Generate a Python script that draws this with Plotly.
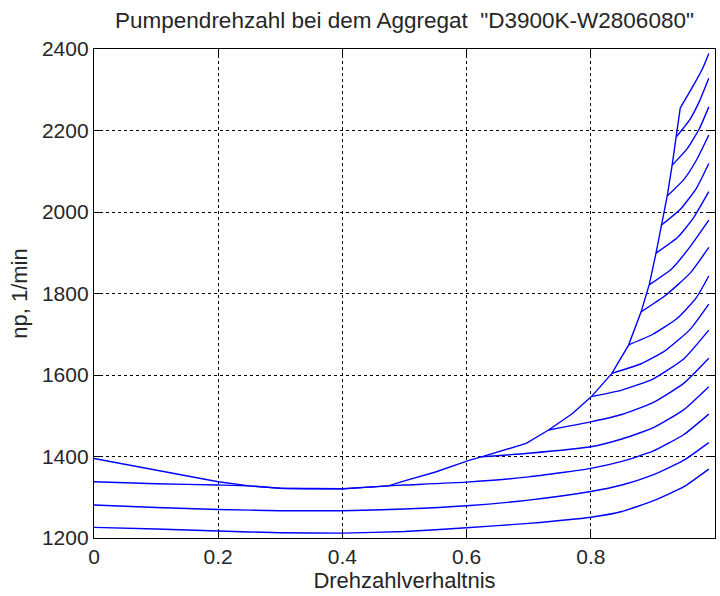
import plotly.graph_objects as go

# ---- data ----
title_text = 'Pumpendrehzahl bei dem Aggregat  "D3900K-W2806080"'
x_label = "Drehzahlverhaltnis"
y_label = "np, 1/min"

x_ticks = [0, 0.2, 0.4, 0.6, 0.8, 1.0]
x_tick_labels = ["0", "0.2", "0.4", "0.6", "0.8", "1"]
y_ticks = [1200, 1400, 1600, 1800, 2000, 2200, 2400]
y_tick_labels = ["1200", "1400", "1600", "1800", "2000", "2200", "2400"]

# limit (envelope) line
env_x = [0.0, 0.1, 0.2, 0.25, 0.3, 0.4, 0.474, 0.5, 0.55, 0.605, 0.624, 0.696, 0.732,
         0.77, 0.801, 0.834, 0.861, 0.881, 0.894, 0.905, 0.914, 0.923, 0.931, 0.938, 0.944]
env_y = [1395, 1366, 1338, 1328, 1322, 1321, 1328, 1340, 1362, 1391, 1399, 1432, 1465,
         1505, 1547, 1604, 1674, 1755, 1821, 1899, 1968, 2039, 2115, 2185, 2255]

# family of speed curves
curve_a_x = [0.0, 0.1, 0.2, 0.3, 0.4, 0.5, 0.6, 0.7, 0.8, 0.85, 0.9, 0.95, 0.99]
curve_a_y = [1226, 1222, 1217, 1213, 1212, 1216, 1225, 1236, 1251, 1265, 1291, 1326, 1369]

curve_b_x = [0.0, 0.1, 0.2, 0.3, 0.4, 0.5, 0.6, 0.7, 0.8, 0.85, 0.9, 0.95, 0.99]
curve_b_y = [1281, 1275, 1270, 1267, 1267, 1271, 1279, 1293, 1314, 1330, 1355, 1391, 1434]

curve_c_x = [0.0, 0.1, 0.2, 0.25, 0.3, 0.4, 0.474, 0.5, 0.6, 0.7, 0.8, 0.85, 0.9, 0.95, 0.99]
curve_c_y = [1338, 1333, 1330, 1328, 1322, 1321, 1328, 1330, 1337, 1350, 1371, 1388, 1413, 1454, 1504]

curve_d_x = [0.624, 0.7, 0.8, 0.85, 0.9, 0.95, 0.99]
curve_d_y = [1399, 1408, 1424, 1443, 1470, 1515, 1571]

curve_e_x = [0.732, 0.8, 0.85, 0.9, 0.95, 0.99]
curve_e_y = [1465, 1485, 1503, 1532, 1580, 1641]

curve_f_x = [0.801, 0.85, 0.9, 0.95, 0.99]
curve_f_y = [1547, 1563, 1590, 1640, 1710]

curve_g_x = [0.834, 0.88, 0.92, 0.96, 0.99]
curve_g_y = [1604, 1627, 1660, 1712, 1774]

curve_h_x = [0.861, 0.9, 0.94, 0.97, 0.99]
curve_h_y = [1674, 1700, 1740, 1790, 1843]

curve_i_x = [0.881, 0.92, 0.96, 0.99]
curve_i_y = [1755, 1795, 1850, 1913]

curve_j_x = [0.894, 0.93, 0.96, 0.99]
curve_j_y = [1821, 1860, 1915, 1980]

curve_k_x = [0.905, 0.94, 0.965, 0.99]
curve_k_y = [1899, 1938, 1985, 2050]

curve_l_x = [0.914, 0.945, 0.97, 0.99]
curve_l_y = [1968, 2008, 2058, 2119]

curve_m_x = [0.923, 0.95, 0.97, 0.99]
curve_m_y = [2039, 2080, 2127, 2189]

curve_n_x = [0.931, 0.955, 0.975, 0.99]
curve_n_y = [2115, 2155, 2205, 2258]

curve_o_x = [0.938, 0.96, 0.975, 0.99]
curve_o_y = [2185, 2228, 2272, 2328]

curve_p_x = [0.944, 0.965, 0.98, 0.99]
curve_p_y = [2255, 2310, 2352, 2389]

family = [
    (curve_a_x, curve_a_y), (curve_b_x, curve_b_y), (curve_c_x, curve_c_y),
    (curve_d_x, curve_d_y), (curve_e_x, curve_e_y), (curve_f_x, curve_f_y),
    (curve_g_x, curve_g_y), (curve_h_x, curve_h_y), (curve_i_x, curve_i_y),
    (curve_j_x, curve_j_y), (curve_k_x, curve_k_y), (curve_l_x, curve_l_y),
    (curve_m_x, curve_m_y), (curve_n_x, curve_n_y), (curve_o_x, curve_o_y),
    (curve_p_x, curve_p_y),
]

FONT = "Liberation Sans, Arial, sans-serif"
TXT = "#262626"
LINE_COLOR = "#0000ff"

fig = go.Figure()
fig.add_trace(go.Scatter(x=env_x, y=env_y, mode="lines",
                         line=dict(color=LINE_COLOR, width=1.4),
                         showlegend=False, hoverinfo="skip"))
for cx, cy in family:
    fig.add_trace(go.Scatter(x=cx, y=cy, mode="lines",
                             line=dict(color=LINE_COLOR, width=1.4, shape="spline", smoothing=0.5),
                             showlegend=False, hoverinfo="skip"))

axis_common = dict(
    showline=True, linecolor="#000000", linewidth=1.2, mirror="ticks",
    ticks="inside", ticklen=6, tickcolor="#000000", tickwidth=1,
    showgrid=True, gridcolor="#000000", gridwidth=1, griddash="3px,3px",
    zeroline=False,
    tickfont=dict(family=FONT, size=21, color=TXT),
)

fig.update_layout(
    width=720, height=596,
    margin=dict(l=94, r=5, t=49, b=58),
    paper_bgcolor="#ffffff", plot_bgcolor="#ffffff",
    hovermode=False,
    title=dict(text=title_text, x=0.5, xref="paper", xanchor="center",
               y=1 - 20 / 596, yref="container", yanchor="middle",
               font=dict(family=FONT, size=22.5, color=TXT)),
    xaxis=dict(range=[0, 1], tickvals=x_ticks, ticktext=x_tick_labels,
               title=dict(text=x_label, font=dict(family=FONT, size=22, color=TXT), standoff=2),
               **axis_common),
    yaxis=dict(range=[1200, 2400], tickvals=y_ticks, ticktext=y_tick_labels,
               title=dict(text=y_label, font=dict(family=FONT, size=22, color=TXT), standoff=8),
               **axis_common),
)

fig.write_html("out.html", config={"displayModeBar": False, "staticPlot": True},
               post_script="document.body.style.margin='0px';")
